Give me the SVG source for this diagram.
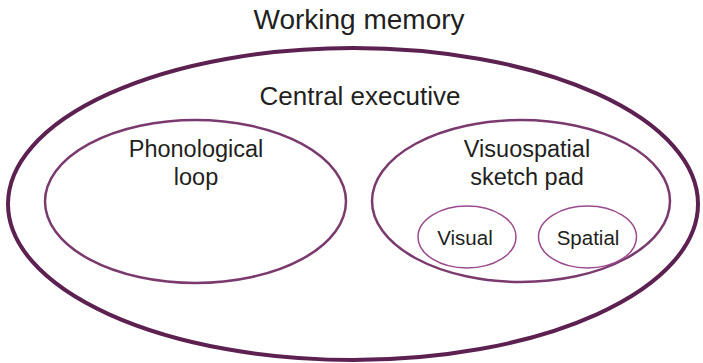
<svg xmlns="http://www.w3.org/2000/svg" width="703" height="363" viewBox="0 0 703 363">
<style>
text{font-family:"Liberation Sans",Arial,sans-serif;fill:#231f20;text-anchor:middle}
.outer{fill:none;stroke:#5c2150;stroke-width:4}
.mid{fill:none;stroke:#7a3a6d;stroke-width:2.5}
.small{fill:none;stroke:#9a4b8c;stroke-width:1.5}
</style>
<rect width="703" height="363" fill="#fff"/>
<g id="working-memory">
<text x="359" y="29" font-size="28">Working memory</text>
</g>
<g id="central-executive">
<ellipse class="outer" cx="353" cy="204" rx="345" ry="156"/>
<text x="360" y="105" font-size="26">Central executive</text>
</g>
<g id="phonological-loop">
<ellipse class="mid" cx="195.5" cy="201.5" rx="150.5" ry="81.5"/>
<text x="196" y="157" font-size="23.5">Phonological</text>
<text x="196" y="185" font-size="23.5">loop</text>
</g>
<g id="visuospatial-sketch-pad">
<ellipse class="mid" cx="521" cy="201" rx="149" ry="81"/>
<text x="527" y="157" font-size="23.5">Visuospatial</text>
<text x="527" y="185" font-size="23.5">sketch pad</text>
</g>
<g id="visual">
<ellipse class="small" cx="467" cy="237" rx="49" ry="31"/>
<text x="465" y="245" font-size="20.5">Visual</text>
</g>
<g id="spatial">
<ellipse class="small" cx="587.5" cy="237" rx="49" ry="31"/>
<text x="588" y="245" font-size="20.5">Spatial</text>
</g>
<g id="connectors"/>
</svg>
